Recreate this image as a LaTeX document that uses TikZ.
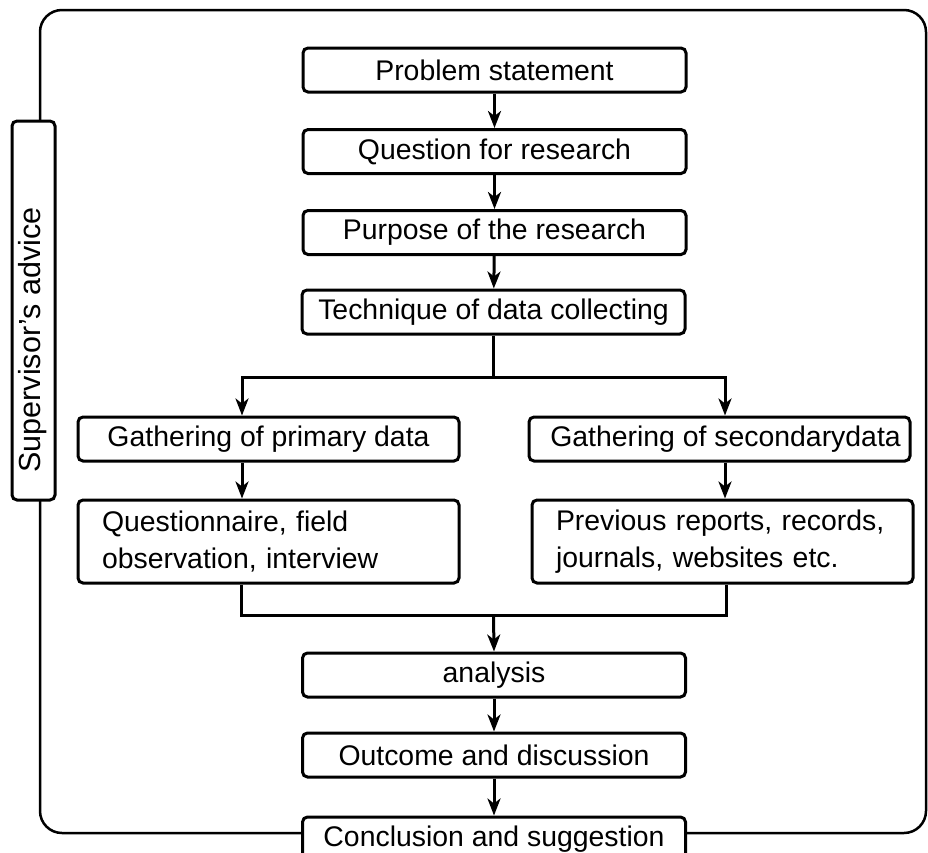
\documentclass[tikz,border=0pt]{standalone}
\usepackage{fontspec}
\setmainfont{Liberation Sans}
\usetikzlibrary{arrows.meta}
\begin{document}
\begin{tikzpicture}[x=1pt,y=-1pt,
  box/.style={draw, line width=3pt, rounded corners=5pt, fill=white, inner sep=0pt,
    font=\fontsize{28.4}{37}\selectfont},
  onebox/.style={box, minimum width=383pt, minimum height=44pt},
  sidebox/.style={box, minimum width=381pt, minimum height=44pt},
  twobox/.style={box, minimum height=83pt, text width=333pt, inner xsep=24pt, align=left},
  conn/.style={line width=3pt},
  arr/.style={conn, -{Stealth[length=17pt,width=13pt,inset=5pt]}}]
\clip (0,0) rectangle (928,852);
\draw[line width=2.5pt, rounded corners=22pt] (40,10) rectangle (926,833);
\node[onebox] (prob) at (494.5,70) {Problem statement};
\node[onebox] (ques) at (494.5,151.5) {Question for research};
\node[onebox] (purp) at (494.5,232.5) {Purpose of the research};
\node[onebox] (tech) at (493.5,312) {Technique of data collecting};
\node[sidebox] (prim) at (268.5,439) {Gathering of primary data};
\node[sidebox] (sec) at (719.5,439) {\hspace*{12pt}Gathering of secondarydata};
\node[twobox] (quest) at (268.5,541.5) {Questionnaire, field\\observation, interview};
\node[twobox] (prev) at (722.5,541.5) {Previous reports, records,\\journals, websites etc.};
\node[onebox] (ana) at (494,675) {analysis};
\node[onebox] (outc) at (494,755) {Outcome and discussion};
\node[onebox] (conc) at (494,839) {Conclusion and suggestion};
\node[box, rotate=90, minimum width=379pt, minimum height=43pt] (sup) at (33.5,310.5) {};
\node[rotate=90, inner sep=0pt, font=\fontsize{30.5}{36}\selectfont] (suptext) at (33,340) {Supervisor’s advice};
\draw[arr] (prob) -- (ques);
\draw[arr] (ques) -- (purp);
\draw[arr] (purp) -- (tech);
\coordinate (bj) at (493.5,377);
\coordinate (bl) at (242,377);
\coordinate (br) at (725,377);
\draw[conn] (tech.south) -- (bj);
\draw[arr] (bj) -- (bl) -- (bl |- prim.north);
\draw[arr] (bj) -- (br) -- (br |- sec.north);
\draw[arr] (prim.south -| bl) -- (bl |- quest.north);
\draw[arr] (sec.south -| br) -- (br |- prev.north);
\coordinate (ml) at (241,615);
\coordinate (mr) at (726,615);
\coordinate (mj) at (493.5,615);
\draw[conn] (quest.south -| ml) -- (ml) -- (mr) -- (prev.south -| mr);
\draw[arr] (mj) -- (ana.north);
\draw[arr] (ana) -- (outc);
\draw[arr] (outc) -- (conc);
\end{tikzpicture}
\end{document}
